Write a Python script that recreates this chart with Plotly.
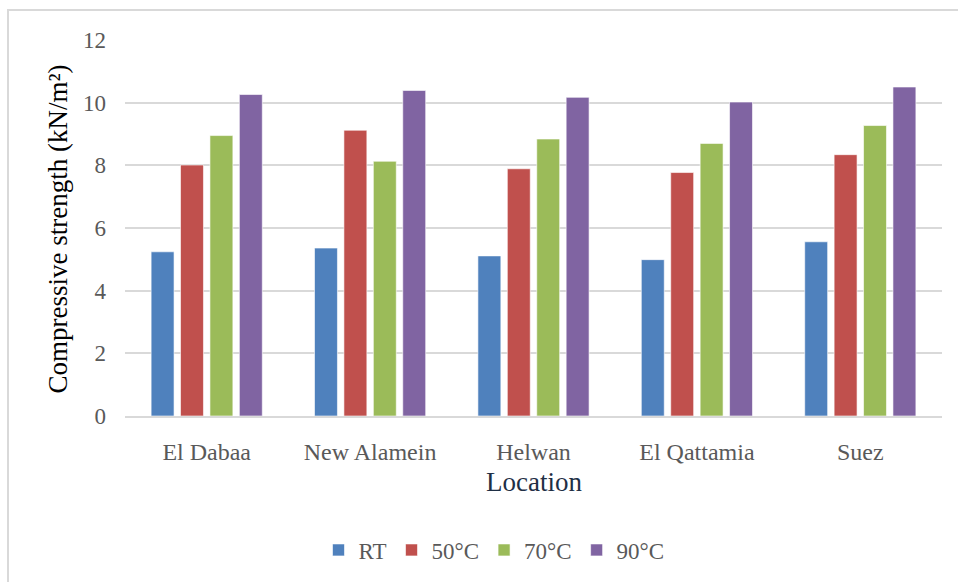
import plotly.graph_objects as go

# Compressive strength by location and curing temperature
locations = ["El Dabaa", "New Alamein", "Helwan", "El Qattamia", "Suez"]
series_names = ["RT", "50°C", "70°C", "90°C"]
rt = [5.24, 5.36, 5.11, 4.99, 5.56]
t50 = [8.01, 9.12, 7.89, 7.77, 8.34]
t70 = [8.95, 8.13, 8.84, 8.70, 9.27]
t90 = [10.26, 10.39, 10.17, 10.02, 10.50]
y_ticks = [0, 2, 4, 6, 8, 10, 12]

colors = ["#4F81BD", "#C0504D", "#9BBB59", "#8064A2"]
font_family = "Liberation Serif"

fig = go.Figure()
for name, vals, col in zip(series_names, [rt, t50, t70, t90], colors):
    fig.add_trace(go.Bar(
        x=locations, y=vals, name=name,
        marker=dict(color=col, line=dict(color="rgba(255,255,255,0.6)", width=1)),
    ))

W, H = 958, 582
L, R, T, B = 125, 16, 40, 165
pw, ph = W - L - R, H - T - B

def px_x(x):
    return (x - L) / pw

def px_y(y):
    return (H - B - y) / ph

fig.update_layout(
    width=W, height=H,
    margin=dict(l=L, r=R, t=T, b=B),
    paper_bgcolor="white", plot_bgcolor="white",
    barmode="group", bargap=0.28, bargroupgap=0.22,
    font=dict(family=font_family, color="#595959", size=24),
    showlegend=True,
    legend=dict(
        orientation="h", x=px_x(494), xanchor="center",
        y=px_y(550), yanchor="middle",
        font=dict(size=23, color="#595959", family=font_family),
        itemwidth=30, tracegroupgap=0,
        bgcolor="rgba(0,0,0,0)",
    ),
)

fig.update_yaxes(
    range=[0, 12], tickvals=y_ticks, ticktext=[str(v) for v in y_ticks],
    showgrid=True, gridcolor="#D9D9D9", gridwidth=1.5,
    zeroline=False, showline=False, ticks="",
    ticklabelstandoff=18,
    tickfont=dict(size=23, color="#595959", family=font_family),
)
fig.update_xaxes(
    showgrid=False, zeroline=False,
    showline=True, linecolor="#D9D9D9", linewidth=1.5,
    ticks="", ticklabelstandoff=13,
    tickfont=dict(size=24, color="#595959", family=font_family),
)

# Axis titles
fig.add_annotation(
    text="Location", xref="paper", yref="paper",
    x=0.5, y=px_y(483), xanchor="center", yanchor="middle",
    showarrow=False, font=dict(size=27, color="#1F2F45", family=font_family),
)
fig.add_annotation(
    text="Compressive strength (kN/m²)", xref="paper", yref="paper",
    x=px_x(58), y=px_y(230), xanchor="center", yanchor="middle",
    textangle=-90, showarrow=False,
    font=dict(size=27, color="black", family=font_family),
)

# Chart area frame
fig.add_shape(
    type="rect", xref="paper", yref="paper",
    x0=px_x(8), x1=px_x(975), y0=px_y(600), y1=px_y(10),
    line=dict(color="#D9D9D9", width=2), fillcolor="rgba(0,0,0,0)",
    layer="below",
)

fig.write_html("out.html")
